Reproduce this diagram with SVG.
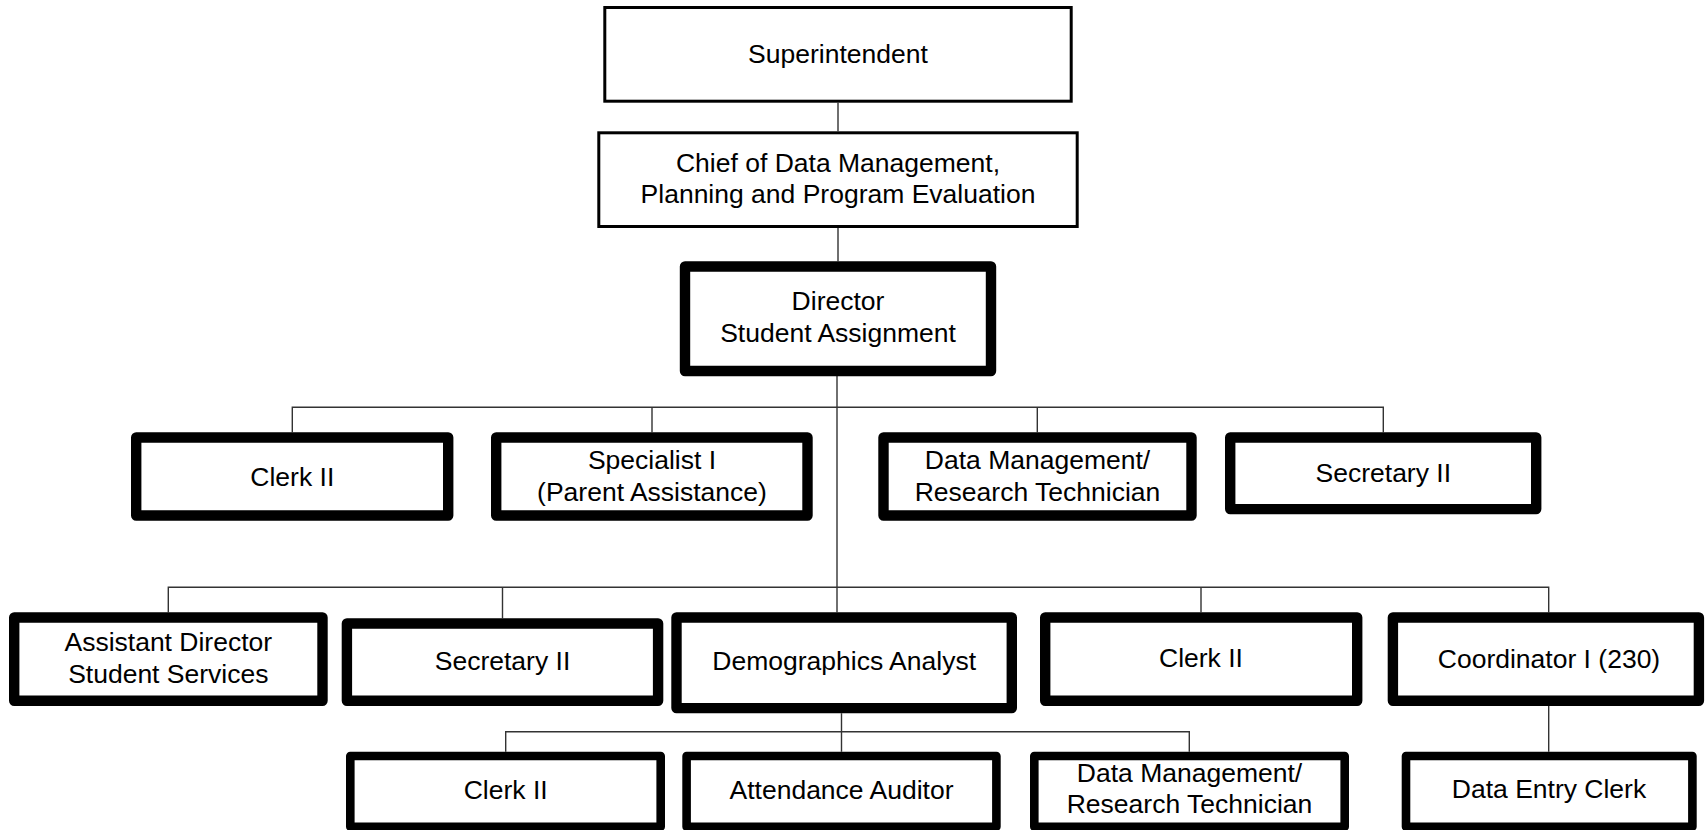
<svg xmlns="http://www.w3.org/2000/svg" width="1705" height="830" viewBox="0 0 1705 830">
<style>
.thin{fill:#fff;stroke:#000;stroke-width:3}
.thick{fill:#fff;stroke:#000;stroke-width:10.4;stroke-linejoin:round}
.thick4{fill:#fff;stroke:#000;stroke-width:8.6;stroke-linejoin:round}
text{font-family:"Liberation Sans",Arial,sans-serif;font-size:26.5px;fill:#000;text-anchor:middle}
#connectors path{fill:none;stroke:#333;stroke-width:1.4}
</style>
<rect width="1705" height="830" fill="#fff"/>
<g id="connectors">
<path d="M838 102.7V131.3M838 228V261.3"/>
<path d="M837 376V612.3"/>
<path d="M292.3 432.3V407.3H1383.3V432.3M652 407.3V432.3M1037.3 407.3V432.3"/>
<path d="M168.3 612.3V587.3H1548.7V612.3M502.5 587.3V618.3M1201 587.3V612.3"/>
<path d="M841.5 713.3V751.7M505.7 751.7V731.7H1189.3V751.7"/>
<path d="M1548.7 706V751.7"/>
</g>
<g id="superintendent"><rect class="thin" x="604.8" y="7.5" width="466.4" height="93.7"/><text x="838" y="63">Superintendent</text></g>
<g id="chief"><rect class="thin" x="598.8" y="132.8" width="478.4" height="93.7"/><text x="838" y="171.7">Chief of Data Management,</text><text x="838" y="203.3">Planning and Program Evaluation</text></g>
<g id="director"><rect class="thick" x="685" y="266.5" width="306" height="104.5"/><text x="838" y="310">Director</text><text x="838" y="341.7">Student Assignment</text></g>
<g id="clerk2-a"><rect class="thick" x="136.2" y="437.5" width="312" height="78"/><text x="292.3" y="485.7">Clerk II</text></g>
<g id="specialist"><rect class="thick" x="496.2" y="437.5" width="311.3" height="78"/><text x="652" y="469">Specialist I</text><text x="652" y="500.7">(Parent Assistance)</text></g>
<g id="dmrt-a"><rect class="thick" x="883.5" y="437.5" width="308" height="78"/><text x="1037.5" y="469">Data Management/</text><text x="1037.5" y="500.7">Research Technician</text></g>
<g id="secretary2-a"><rect class="thick" x="1230.2" y="437.5" width="306" height="71.6"/><text x="1383.3" y="481.7">Secretary II</text></g>
<g id="asst-director"><rect class="thick" x="14.2" y="617.5" width="308.3" height="83.3"/><text x="168.3" y="651">Assistant Director</text><text x="168.3" y="682.7">Student Services</text></g>
<g id="secretary2-b"><rect class="thick" x="346.9" y="623.5" width="311.2" height="77.3"/><text x="502.5" y="670">Secretary II</text></g>
<g id="demographics"><rect class="thick" x="676.5" y="617.5" width="335.3" height="90.6"/><text x="844.2" y="670">Demographics Analyst</text></g>
<g id="clerk2-b"><rect class="thick" x="1045.2" y="617.5" width="312" height="83.3"/><text x="1201" y="666.7">Clerk II</text></g>
<g id="coordinator"><rect class="thick" x="1392.9" y="617.5" width="306" height="83.3"/><text x="1549" y="668.3">Coordinator I (230)</text></g>
<g id="clerk2-c"><rect class="thick4" x="350.3" y="756" width="310.4" height="70.8"/><text x="505.7" y="799.3">Clerk II</text></g>
<g id="attendance"><rect class="thick4" x="686.6" y="756" width="309.8" height="70.8"/><text x="841.5" y="799.3">Attendance Auditor</text></g>
<g id="dmrt-b"><rect class="thick4" x="1034.3" y="756" width="310.4" height="70.8"/><text x="1189.5" y="781.7">Data Management/</text><text x="1189.5" y="813.3">Research Technician</text></g>
<g id="data-entry"><rect class="thick4" x="1406" y="756" width="286.4" height="70.8"/><text x="1549" y="798.3">Data Entry Clerk</text></g>
</svg>
